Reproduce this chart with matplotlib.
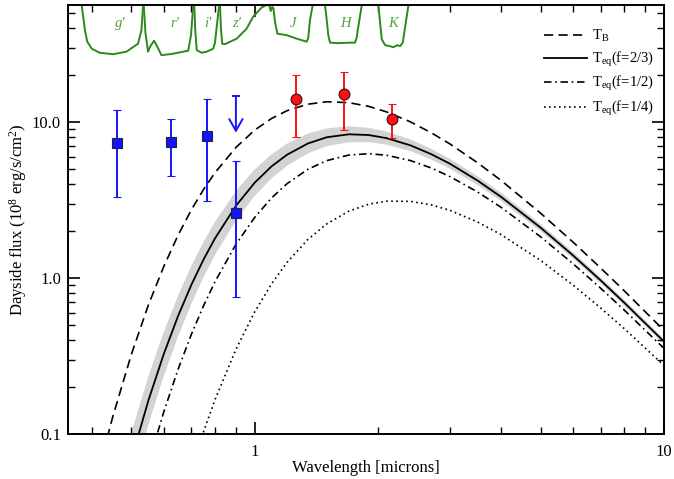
import matplotlib
matplotlib.use('Agg')
import matplotlib.pyplot as plt
import matplotlib.ticker as mticker
import matplotlib.transforms as mtransforms
import numpy as np

plt.rcParams['font.family'] = ['Liberation Serif', 'DejaVu Serif']
plt.rcParams['mathtext.fontset'] = 'custom'
plt.rcParams['mathtext.rm'] = 'Liberation Serif'
plt.rcParams['mathtext.it'] = 'Liberation Serif:italic'

# model curves (wavelength in microns, flux in 1e8 erg/s/cm2)
wave = [0.40, 0.425, 0.45, 0.50, 0.55, 0.60, 0.65, 0.70, 0.75, 0.80, 0.90, 1.00,
        1.10, 1.20, 1.35, 1.50, 1.70, 1.90, 2.10, 2.40, 2.70, 3.00, 3.50, 4.00,
        5.00, 6.00, 7.00, 8.00, 10.0]
flux_tb = [0.038, 0.073, 0.1285, 0.325, 0.671, 1.188, 1.880, 2.727, 3.690, 4.730,
           6.87, 8.87, 10.54, 11.82, 13.01, 13.48, 13.30, 12.59, 11.61, 10.03,
           8.53, 7.23, 5.49, 4.22, 2.597, 1.695, 1.160, 0.827, 0.461]
flux_f23 = [0.0055, 0.0118, 0.0230, 0.0690, 0.1639, 0.3267, 0.5707, 0.901, 1.313,
            1.795, 2.903, 4.080, 5.20, 6.17, 7.29, 7.98, 8.34, 8.25, 7.88, 7.09,
            6.22, 5.40, 4.22, 3.31, 2.098, 1.393, 0.966, 0.694, 0.391]
flux_f23_hi = [0.0089, 0.0187, 0.0355, 0.1021, 0.2340, 0.4529, 0.7718, 1.192, 1.705,
               2.293, 3.609, 4.966, 6.215, 7.274, 8.439, 9.106, 9.383, 9.174, 8.688,
               7.734, 6.731, 5.801, 4.503, 3.516, 2.211, 1.462, 1.010, 0.724, 0.407]
flux_f23_lo = [0.0034, 0.0074, 0.0149, 0.0466, 0.1148, 0.2357, 0.4222, 0.6809, 1.011,
               1.405, 2.334, 3.354, 4.349, 5.243, 6.302, 6.994, 7.419, 7.422, 7.157,
               6.505, 5.750, 5.015, 3.954, 3.118, 1.991, 1.328, 0.923, 0.665, 0.376]
flux_f12 = [0.0005, 0.0035, 0.0074, 0.0248, 0.0646, 0.139, 0.2596, 0.4334, 0.663,
            0.946, 1.643, 2.444, 3.262, 4.027, 4.982, 5.655, 6.143, 6.260, 6.125,
            5.662, 5.073, 4.468, 3.565, 2.837, 1.833, 1.232, 0.861, 0.622, 0.354]
flux_f14 = [0.00005, 0.0001, 0.0003, 0.0015, 0.0051, 0.0136, 0.0304, 0.0592, 0.1034,
            0.1657, 0.349, 0.606, 0.918, 1.259, 1.769, 2.223, 2.686, 2.973, 3.108,
            3.101, 2.944, 2.713, 2.289, 1.897, 1.294, 0.899, 0.643, 0.473, 0.275]

# optical photometry (g', r', i', z')
opt_wave = [0.461, 0.623, 0.766, 0.900]
opt_flux = [7.35, 7.48, 8.17, 2.60]
opt_err_lo = [4.03, 2.99, 5.04, 1.84]
opt_err_hi = [4.53, 2.97, 5.87, 3.05]
zlim_wave = 0.900
zlim_top = 14.7
zlim_tip = 8.54

# near-IR photometry (J, H, K)
ir_wave = [1.262, 1.656, 2.166]
ir_flux = [13.98, 15.12, 10.41]
ir_err_lo = [5.97, 6.19, 2.51]
ir_err_hi = [6.02, 5.88, 2.58]

# filter transmission curves (relative)
filters = {
    "g'": ([0.378, 0.385, 0.390, 0.400, 0.418, 0.451, 0.486, 0.519, 0.529, 0.534],
           [0, 0.5, 0.73, 0.87, 0.95, 0.98, 0.93, 0.77, 0.5, 0]),
    "r'": ([0.536, 0.541, 0.549, 0.556, 0.568, 0.580, 0.592, 0.632, 0.688, 0.699, 0.708],
           [0, 0.55, 0.93, 0.82, 0.71, 0.85, 1.0, 0.97, 0.91, 0.6, 0]),
    "i'": ([0.712, 0.716, 0.722, 0.742, 0.763, 0.792, 0.800, 0.808, 0.819],
           [0, 0.5, 0.9, 0.95, 0.93, 0.87, 0.75, 0.43, 0]),
    "z'": ([0.823, 0.827, 0.833, 0.846, 0.904, 0.956, 0.992, 1.040, 1.070],
           [0, 0.45, 0.77, 0.78, 0.67, 0.47, 0.23, 0.05, 0]),
    "J": ([1.085, 1.095, 1.103, 1.111, 1.122, 1.136, 1.197, 1.267, 1.340, 1.352, 1.365, 1.386],
          [0, 0.12, 0.04, 0.06, 0.35, 0.57, 0.6, 0.67, 0.73, 0.65, 0.3, 0]),
    "H": ([1.485, 1.500, 1.513, 1.528, 1.60, 1.70, 1.759, 1.775, 1.786, 1.827],
          [0, 0.3, 0.6, 0.75, 0.76, 0.75, 0.75, 0.65, 0.5, 0]),
    "K": ([2.005, 2.025, 2.044, 2.083, 2.14, 2.182, 2.23, 2.266, 2.30, 2.330, 2.375],
          [0, 0.35, 0.68, 0.8, 0.82, 0.84, 0.8, 0.82, 0.75, 0.45, 0]),
}
filter_label_wave = {"g'": 0.469, "r'": 0.639, "i'": 0.770, "z'": 0.904,
                     "J": 1.243, "H": 1.669, "K": 2.182}

fig = plt.figure(figsize=(6.74, 4.79), dpi=100)
ax = fig.add_axes([0.1009, 0.0939, 0.8843, 0.8956])
ax.set_xscale('log')
ax.set_yscale('log')

# filter curves hang from the top of the plot
trans = mtransforms.blended_transform_factory(ax.transData, ax.transAxes)
green = '#2a8a1a'
for name, (fw, ft) in filters.items():
    ax.plot(fw, [1 - 0.117 * t for t in ft], color=green, lw=1.4,
            transform=trans, clip_on=False, zorder=2)
    ax.text(filter_label_wave[name], 0.958, name, transform=trans, color='#4f9f3f',
            fontsize=10.5, style='italic', ha='center', va='center')

# models
ax.fill_between(wave, flux_f23_lo, flux_f23_hi, color='#d3d3d3', lw=0, zorder=1)
ax.plot(wave, flux_tb, color='k', lw=1.2, ls=(0, (5.5, 3.2)), label=r'T$_{\rm B}$', zorder=3)
ax.plot(wave, flux_f23, color='k', lw=1.3, ls='-', label=r'T$_{\rm eq}$(f=2/3)', zorder=3)
ax.plot(wave, flux_f12, color='k', lw=1.2, ls=(0, (4.5, 2.2, 1.0, 2.2)),
        label=r'T$_{\rm eq}$(f=1/2)', zorder=3)
ax.plot(wave, flux_f14, color='k', lw=1.2, ls=(0, (1.0, 2.0)),
        label=r'T$_{\rm eq}$(f=1/4)', zorder=3)

# data
ax.errorbar(opt_wave, opt_flux, yerr=[opt_err_lo, opt_err_hi], fmt='s', color='#1414ff',
            mfc='#1414ff', mec='#202040', mew=0.8, ms=7, elinewidth=1.4,
            capsize=2.8, capthick=1.4, zorder=5)
ax.errorbar(ir_wave, ir_flux, yerr=[ir_err_lo, ir_err_hi], fmt='o', color='#ff1010',
            mfc='#ff1010', mec='#301010', mew=0.8, ms=7.8, elinewidth=1.4,
            capsize=2.8, capthick=1.4, zorder=5)
ax.annotate('', xy=(zlim_wave, zlim_tip), xytext=(zlim_wave, zlim_top),
            arrowprops=dict(arrowstyle='->, head_length=0.7, head_width=0.4',
                            color='#1414ff', lw=1.4, shrinkA=0, shrinkB=0,
                            mutation_scale=12), zorder=5)
ax.plot([zlim_wave], [zlim_top], marker='_', ms=6, mew=1.4, color='#1414ff', zorder=5)

ax.set_xlim(0.35, 10)
ax.set_ylim(0.1, 56.2)

ax.xaxis.set_major_locator(mticker.FixedLocator([1, 10]))
ax.xaxis.set_major_formatter(mticker.FixedFormatter(['1', '10']))
ax.xaxis.set_minor_locator(mticker.LogLocator(base=10, subs=np.arange(2, 10)))
ax.xaxis.set_minor_formatter(mticker.NullFormatter())
ax.yaxis.set_major_locator(mticker.FixedLocator([0.1, 1, 10]))
ax.yaxis.set_major_formatter(mticker.FixedFormatter(['0.1', '1.0', '10.0']))
ax.yaxis.set_minor_locator(mticker.LogLocator(base=10, subs=np.arange(2, 10)))
ax.yaxis.set_minor_formatter(mticker.NullFormatter())

ax.tick_params(which='both', direction='in', top=True, right=True, labelsize=12)
ax.tick_params(axis='x', which='both', pad=7.5)
ax.tick_params(axis='y', which='both', pad=5)
ax.tick_params(which='major', length=8.5, width=1.2)
ax.tick_params(which='minor', length=4.8, width=1.0)
for sp in ax.spines.values():
    sp.set_linewidth(1.4)

ax.set_xlabel('Wavelength [microns]', fontsize=12, labelpad=0)
ax.set_ylabel(r'Dayside flux (10$^8$ erg/s/cm$^2$)', fontsize=12, labelpad=2)

ax.legend(loc='upper right', bbox_to_anchor=(1.0, 0.97), frameon=False, fontsize=10.5,
          handlelength=2.9, handletextpad=0.35, labelspacing=0.38, borderaxespad=0.3)

fig.savefig('out.png', dpi=100)
